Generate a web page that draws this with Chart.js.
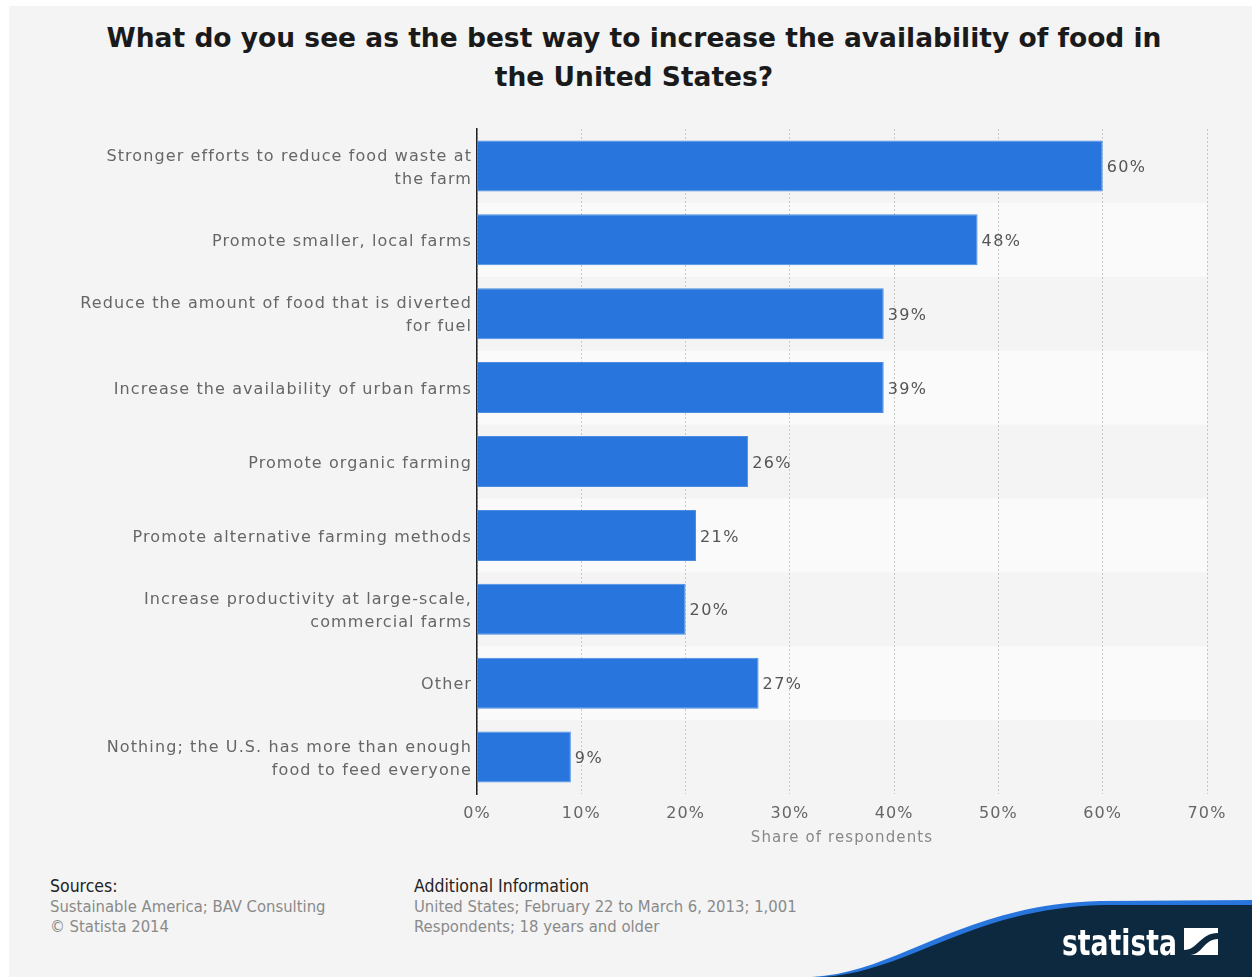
<!DOCTYPE html>
<html>
<head>
<meta charset="utf-8">
<script src="https://cdn.jsdelivr.net/npm/chart.js@4"></script>
<style>
  html, body { margin: 0; padding: 0; background: #fff; }
  body { width: 1252px; height: 977px; position: relative; overflow: hidden; font-family: "DejaVu Sans", sans-serif; }
  #page { position: absolute; left: 9px; top: 6px; right: 0; bottom: 0; background: #f4f4f4; }
  #title { position: absolute; left: 9px; top: 18px; width: 1250px; text-align: center; font-weight: bold; font-size: 26.5px; line-height: 39px; color: #1a1a1a; }
  #wrap { position: absolute; left: 0; top: 0; width: 1252px; height: 860px; }
  .foot { position: absolute; top: 876px; font-family: "DejaVu Sans Condensed", "DejaVu Sans", sans-serif; font-size: 16.5px; line-height: 20px; color: #8a8a8a; }
  .foot b { font-weight: normal; color: #222; font-size: 17.5px; }
  #logo { position: absolute; left: 0; top: 0; }
</style>
</head>
<body>
<div id="page"></div>
<div id="title">What do you see as the best way to increase the availability of food in<br>the United States?</div>
<div id="wrap"><canvas id="myChart" width="1252" height="860"></canvas></div>
<div class="foot" style="left:50px"><b>Sources:</b><br>Sustainable America; BAV Consulting<br>© Statista 2014</div>
<div class="foot" style="left:414px"><b>Additional Information</b><br>United States; February 22 to March 6, 2013; 1,001<br>Respondents; 18 years and older</div>
<svg id="logo" width="1252" height="977">
  <path d="M812 977 C 900 972, 960 905, 1100 901 L 1252 900 L 1252 977 Z" fill="#2876dd"/>
  <path d="M822 977 C 910 972, 968 909, 1102 905 L 1252 905 L 1252 977 Z" fill="#0d2940"/>
  <text x="1062" y="955" fill="#fff" font-family="DejaVu Sans Condensed" font-weight="bold" font-size="35" textLength="115" lengthAdjust="spacingAndGlyphs">statista</text>
  <rect x="1184" y="928" width="34" height="27" fill="#fff"/>
  <path d="M1184 950 C 1198 950, 1200 933, 1218 933 L 1218 939 C 1204 939, 1202 955, 1190 955 L 1184 955 Z" fill="#0d2940"/>
</svg>
<script>
// chart data
const categories = [
  ['Stronger efforts to reduce food waste at', 'the farm'],
  'Promote smaller, local farms',
  ['Reduce the amount of food that is diverted', 'for fuel'],
  'Increase the availability of urban farms',
  'Promote organic farming',
  'Promote alternative farming methods',
  ['Increase productivity at large-scale,', 'commercial farms'],
  'Other',
  ['Nothing; the U.S. has more than enough', 'food to feed everyone']
];
const shares = [60, 48, 39, 39, 26, 21, 20, 27, 9];
const xTicks = [0, 10, 20, 30, 40, 50, 60, 70];

// alternating row backgrounds (+ the wide letter spacing of the original)
const bandPlugin = {
  id: 'bands',
  beforeDraw(chart) {
    const {ctx, chartArea, scales} = chart;
    ctx.letterSpacing = '1.1px';
    const y = scales.y;
    const h = (chartArea.bottom - chartArea.top) / categories.length;
    ctx.save();
    ctx.fillStyle = '#fafafa';
    categories.forEach((c, i) => {
      if (i % 2 === 1) {
        const cy = y.getPixelForValue(i);
        ctx.fillRect(chartArea.left, cy - h / 2, chartArea.right - chartArea.left, h);
      }
    });
    ctx.restore();
  }
};

// value labels at bar ends
const valuePlugin = {
  id: 'values',
  afterDatasetsDraw(chart) {
    const {ctx} = chart;
    const meta = chart.getDatasetMeta(0);
    ctx.save();
    ctx.font = '16px "DejaVu Sans"';
    ctx.letterSpacing = '1.4px';
    ctx.fillStyle = '#555';
    ctx.textAlign = 'left';
    ctx.textBaseline = 'middle';
    meta.data.forEach((bar, i) => {
      ctx.fillText(shares[i] + '%', bar.x + 4, bar.y + 2);
    });
    ctx.restore();
  }
};

new Chart(document.getElementById('myChart'), {
  type: 'bar',
  data: {
    labels: categories,
    datasets: [{
      data: shares,
      backgroundColor: '#2876dd',
      borderColor: '#4a8de3',
      borderWidth: 1,
      categoryPercentage: 1,
      barPercentage: 0.69
    }]
  },
  options: {
    indexAxis: 'y',
    responsive: false,
    animation: false,
    maintainAspectRatio: false,
    layout: { padding: { top: 129, right: 45, left: 0, bottom: 0 } },
    plugins: { legend: { display: false }, tooltip: { enabled: false } },
    scales: {
      x: {
        min: 0, max: 70,
        afterBuildTicks(scale) { scale.ticks = xTicks.map(v => ({value: v})); },
        afterFit(scale) { scale.height = 66; },
        ticks: { padding: 10, color: '#666', font: { family: 'DejaVu Sans', size: 16 }, callback: v => v + '%' },
        grid: { color: '#c8c8c8', lineWidth: 1, drawTicks: false },
        border: { display: false, dash: [2, 2] },
        title: { display: true, text: 'Share of respondents', color: '#888', font: { family: 'DejaVu Sans', size: 15 }, padding: { top: 0, bottom: 13 } }
      },
      y: {
        afterFit(scale) { scale.width = 477; },
        ticks: { padding: 5, labelOffset: 2, color: '#666', font: { family: 'DejaVu Sans', size: 16, lineHeight: 1.45 } },
        grid: { display: false, drawTicks: false },
        border: { display: true, color: '#222', width: 1.5 }
      }
    }
  },
  plugins: [bandPlugin, valuePlugin]
});
</script>
</body>
</html>
